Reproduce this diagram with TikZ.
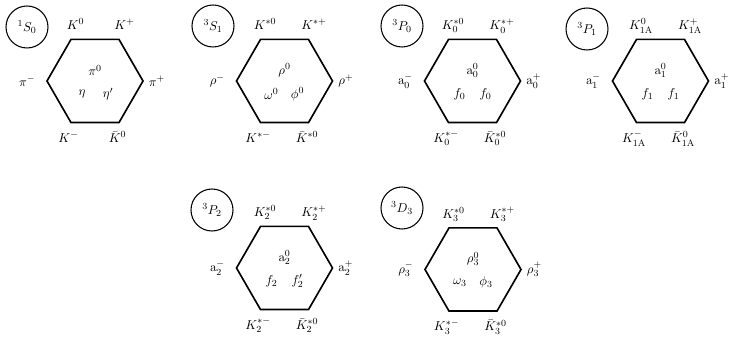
\documentclass[tikz,border=0pt]{standalone}
\usetikzlibrary{shapes.geometric}
\begin{document}
\begin{tikzpicture}[x=0.03cm, y=0.03cm, font=\fontsize{10.95}{13}\selectfont,
    multiplet/.style={draw, line width=1.4pt, regular polygon,
      regular polygon sides=6, minimum size=2.88cm, inner sep=0pt},
    term/.style={draw, line width=0.9pt, circle, minimum size=1.26cm, inner sep=0pt},
    toplab/.style={anchor=base, inner sep=1pt},
    sidelab/.style={inner sep=1pt},
    midlab/.style={inner sep=1pt}]

  % === Nonets of the light q-qbar mesons, one hexagon per J^PC ===
  %
  % Layout (1 unit = one pixel of the 729 x 341 frame):
  %   top row centres at y = 260, bottom row at y = 72
  %   spectroscopic term in a circle to the upper left of each hexagon

  \useasboundingbox (0,0) rectangle (729,341);

  \def\tx{5}   % top labels: shift right of the vertex
  \def\ty{9}   % top labels: baseline above the vertex
  \def\bx{-2}  % bottom labels: shift left of the vertex
  \def\by{-19} % bottom labels: baseline below the vertex

  % --- 1S0 : pseudoscalars ---
  \node[multiplet] (h1) at (95,260) {};
  \node[term] (t1) at (27,314) {${}^1S_0$};
  \node[toplab] (h1tl) at ([shift={(\tx,\ty)}]h1.120) {$K^0$};
  \node[toplab] (h1tr) at ([shift={(\tx,\ty)}]h1.60) {$K^+$};
  \node[toplab] (h1bl) at ([shift={(\bx,\by)}]h1.240) {$K^-$};
  \node[toplab] (h1br) at ([shift={(\bx,\by)}]h1.300) {$\bar K^0$};
  \node[sidelab, left=8pt] (h1l) at (h1.180) {$\pi^-$};
  \node[sidelab, right=3pt] (h1r) at (h1.0) {$\pi^+$};
  \node[midlab] (h1c) at ([yshift=9]h1.center) {$\pi^0$};
  \node[midlab] (h1a) at ([shift={(-13,-13)}]h1.center) {$\eta$};
  \node[midlab] (h1b) at ([shift={(13,-13)}]h1.center) {$\eta'$};

  % --- 3S1 : vectors ---
  \node[multiplet] (h2) at (284.5,260) {};
  \node[term] (t2) at (213,315) {${}^3S_1$};
  \node[toplab] (h2tl) at ([shift={(\tx,\ty)}]h2.120) {$K^{*0}$};
  \node[toplab] (h2tr) at ([shift={(\tx,\ty)}]h2.60) {$K^{*+}$};
  \node[toplab] (h2bl) at ([shift={(\bx,\by)}]h2.240) {$K^{*-}$};
  \node[toplab] (h2br) at ([shift={(\bx,\by)}]h2.300) {$\bar K^{*0}$};
  \node[sidelab, left=8pt] (h2l) at (h2.180) {$\rho^-$};
  \node[sidelab, right=3pt] (h2r) at (h2.0) {$\rho^+$};
  \node[midlab] (h2c) at ([yshift=9]h2.center) {$\rho^0$};
  \node[midlab] (h2a) at ([shift={(-13,-13)}]h2.center) {$\omega^0$};
  \node[midlab] (h2b) at ([shift={(13,-13)}]h2.center) {$\phi^0$};

  % --- 3P0 : scalars ---
  \node[multiplet] (h3) at (472.5,260) {};
  \node[term] (t3) at (402,315) {${}^3P_0$};
  \node[toplab] (h3tl) at ([shift={(\tx,\ty)}]h3.120) {$K_0^{*0}$};
  \node[toplab] (h3tr) at ([shift={(\tx,\ty)}]h3.60) {$K_0^{*+}$};
  \node[toplab] (h3bl) at ([shift={(\bx,\by)}]h3.240) {$K_0^{*-}$};
  \node[toplab] (h3br) at ([shift={(\bx,\by)}]h3.300) {$\bar K_0^{*0}$};
  \node[sidelab, left=8pt] (h3l) at (h3.180) {$\mathrm{a}_0^-$};
  \node[sidelab, right=3pt] (h3r) at (h3.0) {$\mathrm{a}_0^+$};
  \node[midlab] (h3c) at ([yshift=9]h3.center) {$\mathrm{a}_0^0$};
  \node[midlab] (h3a) at ([shift={(-13,-13)}]h3.center) {$f_0$};
  \node[midlab] (h3b) at ([shift={(13,-13)}]h3.center) {$f_0$};

  % --- 3P1 : axial vectors ---
  \node[multiplet] (h4) at (660.5,260) {};
  \node[term] (t4) at (587,312) {${}^3P_1$};
  \node[toplab] (h4tl) at ([shift={(\tx,\ty)}]h4.120) {$K_{1\mathrm{A}}^0$};
  \node[toplab] (h4tr) at ([shift={(\tx,\ty)}]h4.60) {$K_{1\mathrm{A}}^+$};
  \node[toplab] (h4bl) at ([shift={(\bx,\by)}]h4.240) {$K_{1\mathrm{A}}^-$};
  \node[toplab] (h4br) at ([shift={(\bx,\by)}]h4.300) {$\bar K_{1\mathrm{A}}^0$};
  \node[sidelab, left=8pt] (h4l) at (h4.180) {$\mathrm{a}_1^-$};
  \node[sidelab, right=3pt] (h4r) at (h4.0) {$\mathrm{a}_1^+$};
  \node[midlab] (h4c) at ([yshift=9]h4.center) {$\mathrm{a}_1^0$};
  \node[midlab] (h4a) at ([shift={(-13,-13)}]h4.center) {$f_1$};
  \node[midlab] (h4b) at ([shift={(13,-13)}]h4.center) {$f_1$};

  % --- 3P2 : tensors ---
  \node[multiplet] (h5) at (284.5,73) {};
  \node[term] (t5) at (212,131) {${}^3P_2$};
  \node[toplab] (h5tl) at ([shift={(\tx,\ty)}]h5.120) {$K_2^{*0}$};
  \node[toplab] (h5tr) at ([shift={(\tx,\ty)}]h5.60) {$K_2^{*+}$};
  \node[toplab] (h5bl) at ([shift={(\bx,\by)}]h5.240) {$K_2^{*-}$};
  \node[toplab] (h5br) at ([shift={(\bx,\by)}]h5.300) {$\bar K_2^{*0}$};
  \node[sidelab, left=8pt] (h5l) at (h5.180) {$\mathrm{a}_2^-$};
  \node[sidelab, right=3pt] (h5r) at (h5.0) {$\mathrm{a}_2^+$};
  \node[midlab] (h5c) at ([yshift=9]h5.center) {$\mathrm{a}_2^0$};
  \node[midlab] (h5a) at ([shift={(-13,-13)}]h5.center) {$f_2$};
  \node[midlab] (h5b) at ([shift={(13,-13)}]h5.center) {$f_2'$};

  % --- 3D3 ---
  \node[multiplet] (h6) at (473,71.5) {};
  \node[term] (t6) at (402,133) {${}^3D_3$};
  \node[toplab] (h6tl) at ([shift={(\tx,\ty)}]h6.120) {$K_3^{*0}$};
  \node[toplab] (h6tr) at ([shift={(\tx,\ty)}]h6.60) {$K_3^{*+}$};
  \node[toplab] (h6bl) at ([shift={(\bx,\by)}]h6.240) {$K_3^{*-}$};
  \node[toplab] (h6br) at ([shift={(\bx,\by)}]h6.300) {$\bar K_3^{*0}$};
  \node[sidelab, left=8pt] (h6l) at (h6.180) {$\rho_3^-$};
  \node[sidelab, right=3pt] (h6r) at (h6.0) {$\rho_3^+$};
  \node[midlab] (h6c) at ([yshift=9]h6.center) {$\rho_3^0$};
  \node[midlab] (h6a) at ([shift={(-13,-13)}]h6.center) {$\omega_3$};
  \node[midlab] (h6b) at ([shift={(13,-13)}]h6.center) {$\phi_3$};

\end{tikzpicture}
\end{document}
